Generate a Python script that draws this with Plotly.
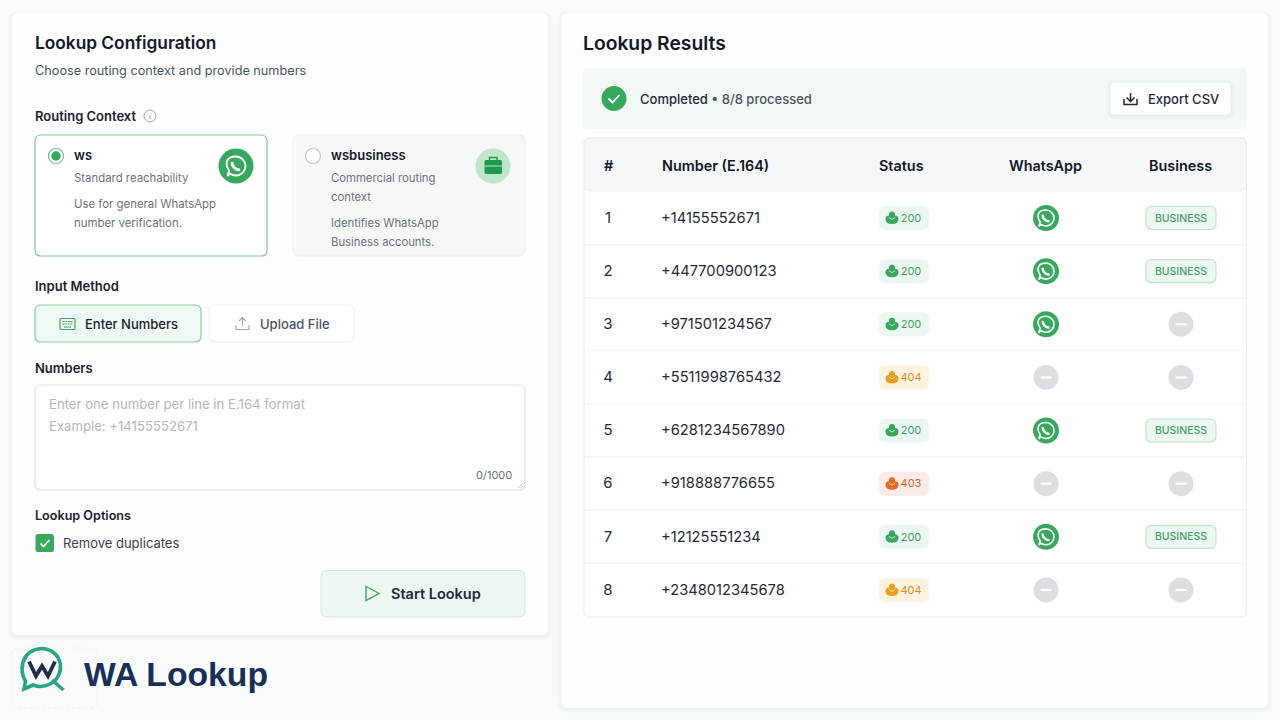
import plotly.graph_objects as go

# table data
row_ids = ["1", "2", "3", "4", "5", "6", "7", "8"]
numbers = ["+14155552671", "+447700900123", "+971501234567", "+5511998765432",
           "+6281234567890", "+918888776655", "+12125551234", "+2348012345678"]
statuses = ["200", "200", "200", "404", "200", "403", "200", "404"]
on_whatsapp = [True, True, True, False, True, False, True, False]
is_business = [True, True, False, False, True, False, True, False]
headers = ["#", "Number (E.164)", "Status", "WhatsApp", "Business"]

status_colors = {
    "200": dict(bg="#ebf7f0", fg="#3f9f66", icon="#38a85f"),
    "404": dict(bg="#fdf3e0", fg="#d98f1c", icon="#eb9f1e"),
    "403": dict(bg="#fdebe5", fg="#d9602a", icon="#ea6a22"),
}

GREEN = "#37a95f"
INK = "#111827"
FONT = "Inter"

fig = go.Figure()
shapes = []
notes = []


def rrect(x0, y0, x1, y1, r=6, fill="#ffffff", line=None, width=1, dash=None, layer="below"):
    p = (f"M{x0+r},{y0} L{x1-r},{y0} Q{x1},{y0} {x1},{y0+r} L{x1},{y1-r} Q{x1},{y1} {x1-r},{y1} "
         f"L{x0+r},{y1} Q{x0},{y1} {x0},{y1-r} L{x0},{y0+r} Q{x0},{y0} {x0+r},{y0} Z")
    shapes.append(dict(type="path", path=p, fillcolor=fill, layer=layer,
                       line=dict(color=line or "rgba(0,0,0,0)", width=width if line else 0, dash=dash)))


def soft_shadow(x0, y0, x1, y1, r=6):
    for grow, alpha in [(4, 0.008), (3, 0.010), (2, 0.013), (1, 0.016)]:
        rrect(x0 - grow, y0 - grow + 1, x1 + grow, y1 + grow + 1, r + grow, fill=f"rgba(30,50,60,{alpha})")


def circle(cx, cy, r, fill="rgba(0,0,0,0)", line=None, width=1, layer="above"):
    shapes.append(dict(type="circle", x0=cx - r, x1=cx + r, y0=cy - r, y1=cy + r, layer=layer,
                       fillcolor=fill, line=dict(color=line or "rgba(0,0,0,0)", width=width if line else 0)))


def glyph(path, fill="rgba(0,0,0,0)", line=None, width=1):
    shapes.append(dict(type="path", path=path, fillcolor=fill, layer="above",
                       line=dict(color=line or "rgba(0,0,0,0)", width=width if line else 0)))


def label(x, y, text, size=13, color=INK, weight=400, anchor="left", family=FONT):
    # annotations land about a pixel right of the requested x when left anchored
    if anchor == "left":
        x -= 1
    notes.append(dict(x=x, y=y, text=text, showarrow=False, xanchor=anchor, yanchor="middle",
                      borderpad=0, font=dict(family=family, size=size, color=color, weight=weight)))


def whatsapp_glyph(cx, cy, s=1.0, color="#ffffff"):
    # speech bubble outline with tail + handset
    k = 7.6 * s
    c = k * 0.55
    glyph(f"M{cx-k*0.9},{cy+k*1.05} L{cx-k*0.72},{cy+k*0.5} C{cx-k*1.25},{cy-k*0.3} {cx-k},{cy-k} {cx},{cy-k} "
          f"C{cx+c},{cy-k} {cx+k},{cy-c} {cx+k},{cy} C{cx+k},{cy+c} {cx+c},{cy+k} {cx},{cy+k} "
          f"C{cx-k*0.25},{cy+k} {cx-k*0.5},{cy+k*0.9} {cx-k*0.66},{cy+k*0.8} Z",
          line=color, width=1.5 * s)
    glyph(f"M{cx-3.2*s},{cy-3.2*s} C{cx-3.4*s},{cy+0.2*s} {cx-0.2*s},{cy+3.4*s} {cx+3.3*s},{cy+3.1*s}",
          line=color, width=2.3 * s)


def status_glyph(cx, cy, color):
    # small two lobed mark used in the status pills
    glyph(f"M{cx-6.5},{cy+1} Q{cx-6.5},{cy-2.5} {cx-3},{cy-2.5} Q{cx-3.5},{cy-6.5} {cx},{cy-6.5} Q{cx+3.5},{cy-6.5} {cx+3},{cy-2.5} "
          f"Q{cx+6.5},{cy-2.5} {cx+6.5},{cy+1} Q{cx+6.5},{cy+6} {cx},{cy+6} Q{cx-6.5},{cy+6} {cx-6.5},{cy+1} Z", fill=color)
    glyph(f"M{cx-3.2},{cy-0.5} L{cx},{cy+1.5} L{cx+3.2},{cy-0.5}", line="rgba(255,255,255,0.75)", width=0.9)


# panels
soft_shadow(12, 13, 548, 635)
rrect(12, 13, 548, 635, 6, fill="#fefefe")
soft_shadow(561, 13, 1268, 708)
rrect(561, 13, 1268, 708, 6, fill="#fefefe")

# left panel heading
label(35, 42.5, "Lookup Configuration", 17.3, INK, 600)
label(35, 70, "Choose routing context and provide numbers", 12.7, "#4b5563")
label(35, 116, "Routing Context", 13, "#1a2230", 600)
circle(150, 116, 6, line="#9ca3af", width=1)
glyph("M150,113.5 L150,113.9", line="#9ca3af", width=1.2)
glyph("M150,115.2 L150,119", line="#9ca3af", width=1.1)

# routing cards
rrect(35, 135, 267, 256, 6, fill="#ffffff", line="#7cc99a", width=1.2)
circle(56, 156, 7.5, fill="#ffffff", line="#6cc08b", width=1.2)
circle(56, 156, 4.7, fill=GREEN)
label(74, 155, "ws", 13, INK, 600)
label(74, 178, "Standard reachability", 11.4, "#6b7280")
label(74, 204, "Use for general WhatsApp", 11.4, "#6b7280")
label(74, 222.5, "number verification.", 11.4, "#6b7280")
circle(236, 166, 17.5, fill=GREEN)
whatsapp_glyph(236, 166, 1.25)

rrect(293, 135, 525, 256, 6, fill="#f6f8f8", line="#eceef0")
circle(313, 156, 7.5, fill="#ffffff", line="#c3c6cb", width=1.2)
label(331, 155, "wsbusiness", 13, INK, 600)
label(331, 178, "Commercial routing", 11.3, "#6b7280")
label(331, 196.5, "context", 11.3, "#6b7280")
label(331, 223, "Identifies WhatsApp", 11.3, "#6b7280")
label(331, 241.5, "Business accounts.", 11.3, "#6b7280")
circle(493, 166, 17.5, fill="#bfe5cb")
rrect(484.5, 160, 502, 174, 1.5, fill="#1f9a4a", layer="above")
glyph("M489.5,160 L489.5,157.5 L497,157.5 L497,160", line="#1f9a4a", width=1.4)
glyph("M484.5,166 L502,166", line="#bfe5cb", width=1)

# input method
label(35, 286, "Input Method", 13, "#1a2230", 600)
rrect(35, 305, 201, 342, 6, fill="#f1f9f4", line="#86cda0", width=1.2)
rrect(60, 318.5, 75, 329.5, 1, fill="rgba(0,0,0,0)", line="#3f9f66", width=1.2, layer="above")
glyph("M62.5,321.5 L72.5,321.5 M62.5,324 L72.5,324 M64,327 L71,327", line="#3f9f66", width=1.1)
glyph("M65,320.5 L65,325 M67.5,320.5 L67.5,325 M70,320.5 L70,325", line="#f1f9f4", width=0.6)
label(85, 324, "Enter Numbers", 13, "#1a2230", 500)
rrect(209, 305, 354, 342, 6, fill="#ffffff", line="#eceef0", width=1.2)
glyph("M236,325 L236,329.5 L249,329.5 L249,325 M242.5,326 L242.5,317.5 M239,321 L242.5,317.5 L246,321",
      line="#9ca3af", width=1.1)
label(260, 324, "Upload File", 13, "#4b5563", 500)

# numbers textarea
label(35, 368, "Numbers", 13, "#1a2230", 600)
rrect(35, 385, 525, 490, 6, fill="#ffffff", line="#dfe2e5", width=1.2)
label(49, 404, "Enter one number per line in E.164 format", 13.15, "#b4b8bd")
label(49, 426, "Example: +14155552671", 13.15, "#b4b8bd")
label(513, 475, "0/1000", 11, "#6b7280", anchor="right")
glyph("M518,488 L523,483 M521,488 L523,486", line="#b4b8bd", width=0.8)

# options
label(35, 515, "Lookup Options", 12.6, "#1a2230", 600)
rrect(35.5, 534, 54, 552, 2.5, fill=GREEN, layer="above")
glyph("M40.5,543.5 L43.5,546.5 L49.5,540", line="#ffffff", width=1.7)
label(63, 543, "Remove duplicates", 13, "#374151")

# start button
rrect(321, 570.5, 525, 617, 6, fill="#ebf7f0", line="#cfe9d9", width=1)
glyph("M366,586.5 L379,593.5 L366,600.5 Z", line=GREEN, width=1.4)
label(391, 593.5, "Start Lookup", 14.5, "#1a2b3c", 600)

# logo block
rrect(12, 648, 97, 708, 6, fill="rgba(0,0,0,0)", line="#eef0f2", width=1, dash="dot")
glyph("M24,689 L25.5,681 C19,672 20,650 42,648.5 C64,650 66,676 50,684 C44,687 38,687 33,685 Z",
      line="#2aa583", width=3.6)
glyph("M52,680 L63.5,690", line="#2aa583", width=3.6)
glyph("M29,661.5 L36,676 L42,666 L48,676 L55,661.5", line="#1f2e4d", width=3.8)
label(84, 674, "WA Lookup", 33.7, "#17305a", 700, family="Liberation Sans")

# right panel heading + status strip
label(583, 43, "Lookup Results", 19.3, INK, 600)
rrect(583, 68, 1247, 129, 6, fill="#f3f9f5")
circle(614, 98.5, 12.5, fill=GREEN)
glyph("M608.5,98.5 L612.5,102.5 L619.5,95", line="#ffffff", width=1.8)
label(640, 99, "Completed<span style='color:#4b5563'> • 8/8 processed</span>", 13, "#1f2937", 500)
soft_shadow(1110, 82, 1231, 115, 5)
rrect(1110, 82, 1231, 115, 5, fill="#ffffff", line="#eceef0")
glyph("M1124,99 L1124,104.5 L1137,104.5 L1137,99 M1130.5,93 L1130.5,101 M1126.5,97.5 L1130.5,101.5 L1134.5,97.5",
      line="#1f2937", width=1.5)
label(1148, 99, "Export CSV", 13, "#1f2937", 500)

# results table frame
rrect(584, 138, 1246.5, 617, 6, fill="#ffffff", line="#eceef0")
rrect(584, 138, 1246.5, 191, 6, fill="#f5f7f8", line="#eceef0")
row_y = [218 + 53.14 * i for i in range(len(row_ids))]
text_y = [y + 1 for y in row_y]
header_x = [609, 715, 901, 1045, 1180.5]
for hx, h in zip(header_x, headers):
    label(hx, 165, h, 14.4, INK, 600, anchor="center")

for i, y in enumerate(row_y):
    if i < len(row_y) - 1:
        shapes.append(dict(type="line", x0=584, x1=1246.5, y0=y + 26.5, y1=y + 26.5, layer="below",
                           line=dict(color="#eef0f2", width=1)))
    st = status_colors[statuses[i]]
    rrect(879, y - 12, 929, y + 12, 7, fill=st["bg"])
    status_glyph(892, y, st["icon"])
    if is_business[i]:
        rrect(1146, y - 11.5, 1216, y + 11.5, 6, fill="#edf8f1", line="#bce3cb", width=1.1)

# table text and status marks come from the lists
fig.add_trace(go.Scatter(x=[608] * len(row_ids), y=text_y, mode="text", text=row_ids, textposition="middle center",
                         textfont=dict(family=FONT, size=15, color="#1f2937"), name="#"))
fig.add_trace(go.Scatter(x=[661] * len(numbers), y=text_y, mode="text", text=numbers, textposition="middle right",
                         textfont=dict(family=FONT, size=14.7, color="#1f2937"), name="Number"))
fig.add_trace(go.Scatter(x=[911] * len(statuses), y=text_y, mode="text", text=statuses, textposition="middle center",
                         textfont=dict(family=FONT, size=11, color=[status_colors[s]["fg"] for s in statuses]),
                         name="Status"))
fig.add_trace(go.Scatter(x=[1046] * len(on_whatsapp), y=row_y, mode="markers", name="WhatsApp",
                         marker=dict(size=[26 if w else 25 for w in on_whatsapp], opacity=1,
                                     color=[GREEN if w else "#dcdee1" for w in on_whatsapp], line=dict(width=0))))
fig.add_trace(go.Scatter(x=[1181 for b in is_business if not b], y=[y for y, b in zip(row_y, is_business) if not b],
                         mode="markers", name="No business", marker=dict(size=25, color="#dcdee1", opacity=1, line=dict(width=0))))
fig.add_trace(go.Scatter(x=[1181 for b in is_business if b], y=[y for y, b in zip(text_y, is_business) if b],
                         mode="text", text=["BUSINESS" for b in is_business if b], textposition="middle center",
                         textfont=dict(family=FONT, size=10.5, color="#3f9f66", weight=500), name="Business"))

for y, w, b in zip(row_y, on_whatsapp, is_business):
    if w:
        whatsapp_glyph(1046, y, 1.05)
    else:
        glyph(f"M1040.5,{y} L1051.5,{y}", line="#ffffff", width=2.2)
    if not b:
        glyph(f"M1175.5,{y} L1186.5,{y}", line="#ffffff", width=2.2)

fig.update_layout(
    width=1280, height=720, margin=dict(l=0, r=0, t=0, b=0),
    paper_bgcolor="#f9fbfb", plot_bgcolor="#f9fbfb", showlegend=False, hovermode=False,
    xaxis=dict(range=[0, 1280], visible=False, fixedrange=True),
    yaxis=dict(range=[720, 0], visible=False, fixedrange=True),
    shapes=shapes, annotations=notes,
)

fig.write_html("out.html", config=dict(displayModeBar=False),
               post_script="document.body.style.margin='0';")
